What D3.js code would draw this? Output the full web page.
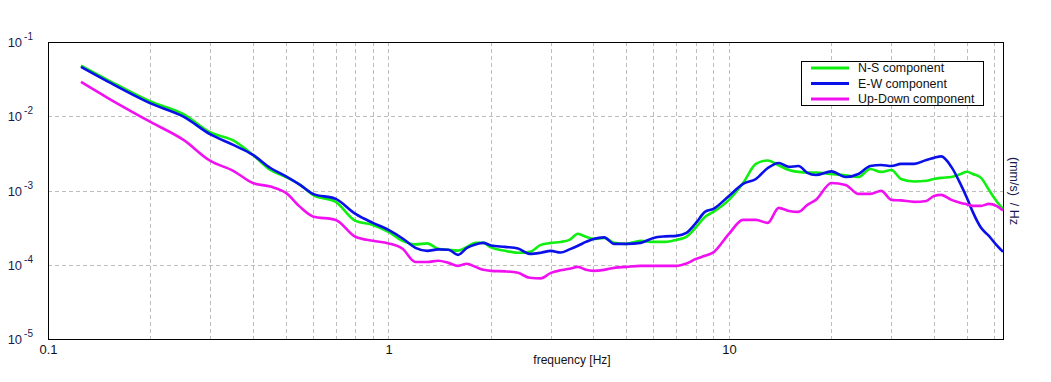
<!DOCTYPE html>
<html>
<head>
<meta charset="utf-8">
<script src="https://cdn.jsdelivr.net/npm/d3@7"></script>
<style>
  body { margin: 0; background: #fff; }
  svg { display: block; font-family: Arial, "Liberation Sans", sans-serif; }
</style>
</head>
<body>
<div id="chart"></div>
<script>
// frequencies (Hz) shared by the three spectra
const freq = [0.125, 0.15, 0.2, 0.25, 0.3, 0.35, 0.4, 0.45, 0.5, 0.55, 0.6, 0.7, 0.8, 0.9,
  1.0, 1.1, 1.2, 1.3, 1.4, 1.5, 1.6, 1.7, 1.8, 1.9, 2.0, 2.2, 2.4, 2.6, 2.8,
  3.0, 3.2, 3.4, 3.6, 3.8, 4.0, 4.3, 4.6, 5.0, 5.5, 6.0, 6.5, 7.0, 7.5, 8.0, 8.5, 9,
  10, 11, 12, 13, 14, 15, 16, 17, 18, 20, 22, 24, 26, 28, 30, 32, 35, 38,
  40, 42, 45, 48, 50, 52, 55, 58, 61, 63.8];

const nsComp = [4.8e-2, 3.07e-2, 1.58e-2, 1.07e-2, 6.05e-3, 4.72e-3, 3.01e-3, 1.89e-3, 1.52e-3, 1.19e-3, 8.73e-4, 7.03e-4, 3.9e-4, 3.44e-4,
  2.77e-4, 2.1e-4, 1.88e-4, 1.94e-4, 1.64e-4, 1.59e-4, 1.55e-4, 1.74e-4, 1.97e-4, 1.97e-4, 1.71e-4, 1.54e-4, 1.45e-4, 1.49e-4, 1.85e-4,
  1.97e-4, 2.03e-4, 2.16e-4, 2.61e-4, 2.38e-4, 2.23e-4, 2.3e-4, 1.97e-4, 1.91e-4, 2.1e-4, 2.03e-4, 2.03e-4, 2.16e-4, 2.38e-4, 3.2e-4, 4.41e-4, 5.15e-4,
  7.48e-4, 1.26e-3, 2.28e-3, 2.54e-3, 2.18e-3, 1.89e-3, 1.78e-3, 1.75e-3, 1.75e-3, 1.67e-3, 1.6e-3, 1.52e-3, 1.95e-3, 1.78e-3, 1.89e-3, 1.43e-3, 1.32e-3, 1.35e-3,
  1.43e-3, 1.48e-3, 1.52e-3, 1.67e-3, 1.79e-3, 1.67e-3, 1.48e-3, 1.02e-3, 7.24e-4, 5.65e-4];

const ewComp = [4.61e-2, 2.92e-2, 1.49e-2, 9.88e-3, 5.69e-3, 4.11e-3, 3.01e-3, 2.01e-3, 1.55e-3, 1.19e-3, 9.0e-4, 7.71e-4, 4.84e-4, 3.66e-4,
  2.95e-4, 2.26e-4, 1.69e-4, 1.54e-4, 1.61e-4, 1.59e-4, 1.36e-4, 1.69e-4, 1.88e-4, 1.97e-4, 1.82e-4, 1.74e-4, 1.66e-4, 1.4e-4, 1.45e-4,
  1.54e-4, 1.46e-4, 1.61e-4, 1.8e-4, 2.03e-4, 2.23e-4, 2.34e-4, 1.91e-4, 1.91e-4, 1.97e-4, 2.3e-4, 2.41e-4, 2.45e-4, 2.69e-4, 3.66e-4, 5.15e-4, 5.65e-4,
  8.45e-4, 1.23e-3, 1.43e-3, 2.01e-3, 2.35e-3, 2.08e-3, 2.14e-3, 1.73e-3, 1.62e-3, 1.81e-3, 1.52e-3, 1.67e-3, 2.14e-3, 2.21e-3, 2.14e-3, 2.28e-3, 2.28e-3, 2.58e-3,
  2.75e-3, 2.88e-3, 2.08e-3, 1.19e-3, 7.95e-4, 5.15e-4, 3.14e-4, 2.45e-4, 1.85e-4, 1.49e-4];

const udComp = [2.9e-2, 1.76e-2, 8.38e-3, 4.8e-3, 2.5e-3, 1.84e-3, 1.26e-3, 1.13e-3, 9.29e-4, 6.02e-4, 4.48e-4, 4.02e-4, 2.38e-4, 2.1e-4,
  1.94e-4, 1.64e-4, 1.09e-4, 1.09e-4, 1.13e-4, 1.06e-4, 9.66e-5, 1.03e-4, 9.37e-5, 8.54e-5, 8.28e-5, 8.15e-5, 7.78e-5, 6.67e-5, 6.56e-5,
  7.78e-5, 8.41e-5, 8.81e-5, 9.37e-5, 8.54e-5, 8.28e-5, 8.54e-5, 9.08e-5, 9.37e-5, 9.66e-5, 9.66e-5, 9.66e-5, 9.66e-5, 1.04e-4, 1.2e-4, 1.32e-4, 1.47e-4,
  2.61e-4, 4.02e-4, 4.02e-4, 3.66e-4, 5.83e-4, 5.31e-4, 5.15e-4, 6.4e-4, 7.48e-4, 1.26e-3, 1.19e-3, 9.0e-4, 9.0e-4, 9.88e-4, 7.48e-4, 7.36e-4, 7.03e-4, 7.24e-4,
  8.45e-4, 8.73e-4, 7.48e-4, 6.81e-4, 6.5e-4, 6.21e-4, 6.21e-4, 6.61e-4, 6.21e-4, 5.36e-4];

const seriesNames = ['N-S component', 'E-W component', 'Up-Down component'];
const seriesColors = ['#11ee11', '#0a10e8', '#f010f0'];
const yTickExps = [-1, -2, -3, -4, -5];
const xTickValues = [0.1, 1, 10];

const width = 1051;
const height = 382;
const margin = { top: 42, right: 48, bottom: 43, left: 48 };

const svg = d3.select('#chart')
  .append('svg')
  .attr('width', width)
  .attr('height', height);

const x = d3.scaleLog()
  .domain([0.1, 63.8])
  .range([margin.left, width - margin.right]);

const y = d3.scaleLog()
  .domain([1e-5, 1e-1])
  .range([height - margin.bottom, margin.top]);

// grid lines, every minor decade step on x, decades on y
const xGrid = [];
[0.1, 1, 10].forEach(d => { for (let k = 1; k < 10; k++) { if (d * k <= 63.8) xGrid.push(d * k); } });

svg.append('g')
  .attr('stroke', '#bdbdbd')
  .attr('stroke-dasharray', '4,3')
  .selectAll('line')
  .data(xGrid)
  .join('line')
    .attr('x1', d => Math.round(x(d)) + 0.5)
    .attr('x2', d => Math.round(x(d)) + 0.5)
    .attr('y1', margin.top)
    .attr('y2', height - margin.bottom);

svg.append('g')
  .attr('stroke', '#bdbdbd')
  .attr('stroke-dasharray', '4,3')
  .selectAll('line')
  .data(yTickExps.slice(1, 4))
  .join('line')
    .attr('x1', margin.left)
    .attr('x2', width - margin.right)
    .attr('y1', d => Math.round(y(Math.pow(10, d))) + 0.5)
    .attr('y2', d => Math.round(y(Math.pow(10, d))) + 0.5);

// frame
svg.append('rect')
  .attr('x', margin.left + 0.5)
  .attr('y', margin.top + 0.5)
  .attr('width', width - margin.left - margin.right)
  .attr('height', height - margin.top - margin.bottom)
  .attr('fill', 'none')
  .attr('stroke', '#000');

// spectra
const line = d3.line()
  .x(d => x(d[0]))
  .y(d => y(d[1]))
  .curve(d3.curveMonotoneX);

[nsComp, ewComp, udComp].forEach((vals, i) => {
  svg.append('path')
    .datum(freq.map((f, j) => [f, vals[j]]))
    .attr('fill', 'none')
    .attr('stroke', seriesColors[i])
    .attr('stroke-width', 2.6)
    .attr('stroke-linejoin', 'round')
    .attr('d', line);
});

// x axis labels
svg.append('g')
  .attr('transform', `translate(0, ${height - margin.bottom})`)
  .call(d3.axisBottom(x).tickValues(xTickValues).tickSize(0).tickPadding(6).tickFormat(d => String(d)))
  .call(g => g.select('.domain').remove())
  .attr('font-size', '13px')
  .attr('font-family', 'Arial, "Liberation Sans", sans-serif')
  .selectAll('text').attr('fill', '#111');

// y axis labels 10^n
svg.append('g')
  .selectAll('text')
  .data(yTickExps)
  .join('text')
    .attr('x', 33)
    .attr('y', d => y(Math.pow(10, d)) + 5)
    .attr('text-anchor', 'end')
    .attr('font-size', '13px')
    .attr('fill', '#1a1a50')
    .text('10')
  .append('tspan')
    .attr('dx', 2)
    .attr('dy', -7)
    .attr('font-size', '10px')
    .text(d => d);

svg.append('text')
  .attr('x', 572)
  .attr('y', 364)
  .attr('text-anchor', 'middle')
  .attr('font-size', '12px')
  .attr('fill', '#111')
  .text('frequency [Hz]');

svg.append('text')
  .attr('transform', `translate(1010, 191) rotate(90)`)
  .attr('text-anchor', 'middle')
  .attr('font-size', '12.5px')
  .attr('fill', '#1a1a50')
  .style('white-space', 'pre')
  .text('(mm/s)  / Hz');

// legend
const legend = svg.append('g');
legend.append('rect')
  .attr('x', 801.5)
  .attr('y', 61.5)
  .attr('width', 182)
  .attr('height', 44)
  .attr('fill', '#fff')
  .attr('stroke', '#000');

seriesNames.forEach((name, i) => {
  const ly = 68 + i * 15.5;
  legend.append('line')
    .attr('x1', 811).attr('x2', 849)
    .attr('y1', ly).attr('y2', ly)
    .attr('stroke', seriesColors[i])
    .attr('stroke-width', 3);
  legend.append('text')
    .attr('x', 858)
    .attr('y', ly + 4)
    .attr('font-size', '12.4px')
    .attr('fill', '#111')
    .text(name);
});
</script>
</body>
</html>
